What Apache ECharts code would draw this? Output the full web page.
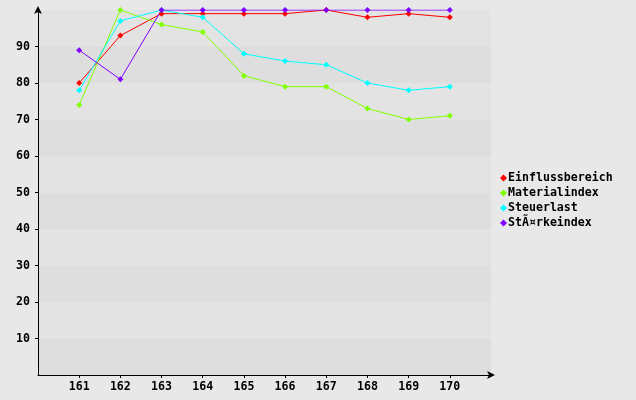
<!DOCTYPE html>
<html><head><meta charset="utf-8">
<script src="https://cdn.jsdelivr.net/npm/echarts@6/dist/echarts.min.js"></script>
<style>html,body{margin:0;padding:0;background:#e8e8e8}#c{width:636px;height:400px}</style>
</head><body><div id="c"></div>
<script>
const categories = [161,162,163,164,165,166,167,168,169,170];
const seriesNames = ['Einflussbereich','Materialindex','Steuerlast','StÃ¤rkeindex'];
const einflussbereich = [80,93,99,99,99,99,100,98,99,98];
const materialindex = [74,100,96,94,82,79,79,73,70,71];
const steuerlast = [78,97,100,98,88,86,85,80,78,79];
const staerkeindex = [89,81,100,100,100,100,100,100,100,100];
const yTicks = [10,20,30,40,50,60,70,80,90];
const colors = ['#ff0000','#80ff00','#00ffff','#8000ff'];
const values = [einflussbereich, materialindex, steuerlast, staerkeindex];

const font = 'DejaVu Sans Mono';
const chart = echarts.init(document.getElementById('c'));
chart.setOption({
  backgroundColor: '#e8e8e8',
  animation: false,
  grid: {left: 38, right: 145, top: 10, bottom: 25, containLabel: false},
  legend: {
    orient: 'vertical', left: 495, top: 167, itemWidth: 7, itemHeight: 7, itemGap: 3,
    icon: 'diamond',
    textStyle: {fontFamily: font, fontWeight: 'bold', fontSize: 11.6, color: '#000', padding: [0,0,0,-4]},
    data: seriesNames
  },
  xAxis: {
    type: 'value', min: 160, max: 171, interval: 1, z: 3,
    axisLine: {onZero: false, lineStyle: {color: '#000', width: 1}, symbol: ['none','arrow'], symbolSize: [6,8], symbolOffset: [0,4]},
    axisTick: {show: true, length: 3, lineStyle: {color: '#000'}, customValues: categories},
    axisLabel: {fontFamily: font, fontWeight: 'bold', fontSize: 11.6, color: '#000', margin: 6,
      customValues: categories},
    splitLine: {show: false}
  },
  yAxis: [{
    type: 'value', min: 0, max: 100, interval: 10, z: 1,
    axisLine: {show: false}, axisTick: {show: false}, axisLabel: {show: false},
    splitLine: {show: false},
    splitArea: {show: true, areaStyle: {color: ['#dedede','#e3e3e3']}}
  }, {
    type: 'value', min: 0, max: 100, interval: 10, position: 'left', z: 3,
    axisLine: {show: true, lineStyle: {color: '#000', width: 1}, symbol: ['none','arrow'], symbolSize: [6,8], symbolOffset: [0,4]},
    axisTick: {show: true, length: 3, lineStyle: {color: '#000'}, customValues: yTicks},
    axisLabel: {fontFamily: font, fontWeight: 'bold', fontSize: 11.6, color: '#000', margin: 8, customValues: yTicks},
    splitLine: {show: false},
    splitArea: {show: false}
  }],
  series: seriesNames.map((n,i) => ({
    name: n, type: 'line', symbol: 'diamond', symbolSize: 6, yAxisIndex: 1,
    itemStyle: {color: colors[i]}, lineStyle: {color: colors[i], width: 1},
    data: categories.map((c,j) => [c, values[i][j]])
  }))
});
</script></body></html>
